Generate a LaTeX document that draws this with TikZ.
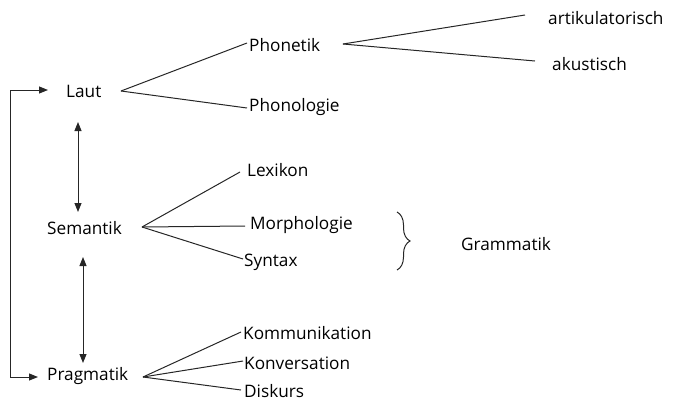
\documentclass[tikz,border=0pt]{standalone}
\usepackage{fontspec}
\setmainfont{Open Sans}
\usetikzlibrary{arrows.meta,decorations.pathreplacing}
\begin{document}
\begin{tikzpicture}[x=1pt,y=-1pt,
  lbl/.style={anchor=west,inner sep=0pt,font=\fontsize{17.2}{20}\selectfont},
  ln/.style={line width=1pt,draw=black!85},
  arr/.style={ln,-{Triangle[length=9pt,width=7pt]}},
  darr/.style={ln,{Triangle[length=9pt,width=7pt]}-{Triangle[length=9pt,width=7pt]}}]
\useasboundingbox (0,0) rectangle (685,402);
% main nodes
\node[lbl] (laut) at (66,91) {Laut};
\node[lbl] (sem) at (47,228) {Semantik};
\node[lbl] (prag) at (47,376) {Pragmatik};
% second level
\node[lbl] (phonetik) at (249,45) {Phonetik};
\node[lbl] (phonologie) at (249,107) {Phonologie};
\node[lbl] (lexikon) at (247,170) {Lexikon};
\node[lbl] (morph) at (250,225) {Morphologie};
\node[lbl] (syntax) at (244,262) {Syntax};
\node[lbl] (komm) at (243,333) {Kommunikation};
\node[lbl] (konv) at (244,363) {Konversation};
\node[lbl] (disk) at (244,391) {Diskurs};
% third level
\node[lbl] (artik) at (548,18) {artikulatorisch};
\node[lbl] (akust) at (552,64) {akustisch};
\node[lbl] (gram) at (461,244) {Grammatik};
% junction coordinates
\coordinate (lj) at (121,91);
\coordinate (sj) at (142,227);
\coordinate (pj) at (143,377);
\coordinate (phj) at (343,44);
\coordinate (artE) at (525,15);
\coordinate (akuE) at (535,61);
\draw[ln] (lj) -- (247,43);
\draw[ln] (lj) -- (247,108);
\draw[ln] (phj) -- (artE);
\draw[ln] (phj) -- (akuE);
\draw[ln] (sj) -- (240,172);
\draw[ln] (sj) -- (245,226);
\draw[ln] (sj) -- (243,259);
\draw[ln] (pj) -- (241,332);
\draw[ln] (pj) -- (243,361);
\draw[ln] (pj) -- (241,390);
% vertical double arrows
\draw[darr] (78,122) -- (78,212);
\draw[darr] (83,257) -- (83,363);
% left bracket arrows
\coordinate (lt) at (10,90);
\coordinate (lb) at (10,377);
\draw[arr] (lt) -- (48,90);
\draw[ln] (lt) -- (lb);
\draw[arr] (lb) -- (38,377);
% brace
\draw[ln,decorate,decoration={brace,amplitude=13pt,aspect=0.5}] (397,212) -- (397,270);
\end{tikzpicture}
\end{document}
